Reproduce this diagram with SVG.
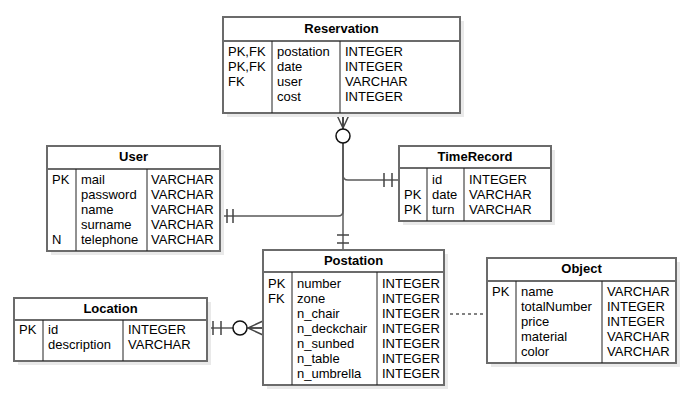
<svg xmlns="http://www.w3.org/2000/svg" width="691" height="401" viewBox="0 0 691 401">
<style>
.shadow{fill:#e9e9e9;stroke:none}
.box{fill:#fff;stroke:#6b6b6b;stroke-width:2}
.hline{stroke:#6b6b6b;stroke-width:2}
.div{stroke:#222;stroke-width:1}
text{font-family:"Liberation Sans",Arial,sans-serif;font-size:13px;fill:#000}
.title{font-weight:bold;text-anchor:middle}
.conn{fill:none;stroke:#5a5a5a;stroke-width:1.5}
.sym{fill:none;stroke:#444;stroke-width:1.5}
.circ{fill:#fff;stroke:#111;stroke-width:1.5}
</style>
<rect width="691" height="401" fill="#fff"/>

<g id="connectors">
  <path class="conn" d="M343 113 V250"/>
  <path class="conn" d="M343 113 V211 Q343 216 338 216 H220"/>
  <path class="conn" d="M343 113 V175 Q343 180 348 180 H399"/>
  <path class="conn" d="M207 328 H263"/>
  <path class="conn" d="M444 314 H487" stroke-dasharray="3 3"/>
  <!-- Reservation side: zero or many -->
  <path class="sym" d="M336 113 L343 128 L350 113 M343 113 V129"/>
  <circle class="circ" cx="343" cy="136" r="7"/>
  <!-- Postation top ticks -->
  <path class="sym" d="M337 235 H349 M337 243 H349"/>
  <!-- User ticks -->
  <path class="sym" d="M227 209 V223 M233 209 V223"/>
  <!-- TimeRecord ticks -->
  <path class="sym" d="M384 173 V187 M392 173 V187"/>
  <!-- Location side ticks -->
  <path class="sym" d="M213 321 V335 M221 321 V335"/>
  <circle class="circ" cx="240" cy="328" r="7"/>
  <path class="sym" d="M263 321 L248 328 L263 335 M248 328 H263"/>
</g>

<g id="Reservation">
  <rect class="shadow" x="227" y="21" width="237" height="96"/>
  <rect class="box" x="223" y="17" width="237" height="96"/>
  <line class="hline" x1="223" y1="41" x2="460" y2="41"/>
  <line class="div" x1="272" y1="41" x2="272" y2="113"/>
  <line class="div" x1="340" y1="41" x2="340" y2="113"/>
  <text class="title" x="341.5" y="33">Reservation</text>
  <text x="228" y="56">PK,FK</text><text x="277" y="56">postation</text><text x="345" y="56">INTEGER</text>
  <text x="228" y="71">PK,FK</text><text x="277" y="71">date</text><text x="345" y="71">INTEGER</text>
  <text x="228" y="86">FK</text><text x="277" y="86">user</text><text x="345" y="86">VARCHAR</text>
  <text x="277" y="101">cost</text><text x="345" y="101">INTEGER</text>
</g>

<g id="User">
  <rect class="shadow" x="51" y="150" width="173" height="105"/>
  <rect class="box" x="47" y="146" width="173" height="105"/>
  <line class="hline" x1="47" y1="169" x2="220" y2="169"/>
  <line class="div" x1="76" y1="169" x2="76" y2="251"/>
  <line class="div" x1="147" y1="169" x2="147" y2="251"/>
  <text class="title" x="133.5" y="161">User</text>
  <text x="52" y="184">PK</text><text x="81" y="184">mail</text><text x="151" y="184">VARCHAR</text>
  <text x="81" y="199">password</text><text x="151" y="199">VARCHAR</text>
  <text x="81" y="214">name</text><text x="151" y="214">VARCHAR</text>
  <text x="81" y="229">surname</text><text x="151" y="229">VARCHAR</text>
  <text x="52" y="244">N</text><text x="81" y="244">telephone</text><text x="151" y="244">VARCHAR</text>
</g>

<g id="TimeRecord">
  <rect class="shadow" x="403" y="150" width="152" height="75"/>
  <rect class="box" x="399" y="146" width="152" height="75"/>
  <line class="hline" x1="399" y1="168" x2="551" y2="168"/>
  <line class="div" x1="427" y1="168" x2="427" y2="221"/>
  <line class="div" x1="464" y1="168" x2="464" y2="221"/>
  <text class="title" x="475" y="161">TimeRecord</text>
  <text x="432" y="184">id</text><text x="469" y="184">INTEGER</text>
  <text x="404" y="199">PK</text><text x="432" y="199">date</text><text x="469" y="199">VARCHAR</text>
  <text x="404" y="214">PK</text><text x="432" y="214">turn</text><text x="469" y="214">VARCHAR</text>
</g>

<g id="Postation">
  <rect class="shadow" x="267" y="254" width="181" height="135"/>
  <rect class="box" x="263" y="250" width="181" height="135"/>
  <line class="hline" x1="263" y1="272" x2="444" y2="272"/>
  <line class="div" x1="292" y1="272" x2="292" y2="385"/>
  <line class="div" x1="377" y1="272" x2="377" y2="385"/>
  <text class="title" x="353.5" y="265">Postation</text>
  <text x="268" y="288">PK</text><text x="297" y="288">number</text><text x="382" y="288">INTEGER</text>
  <text x="268" y="303">FK</text><text x="297" y="303">zone</text><text x="382" y="303">INTEGER</text>
  <text x="297" y="318">n_chair</text><text x="382" y="318">INTEGER</text>
  <text x="297" y="333">n_deckchair</text><text x="382" y="333">INTEGER</text>
  <text x="297" y="348">n_sunbed</text><text x="382" y="348">INTEGER</text>
  <text x="297" y="363">n_table</text><text x="382" y="363">INTEGER</text>
  <text x="297" y="378">n_umbrella</text><text x="382" y="378">INTEGER</text>
</g>

<g id="Object">
  <rect class="shadow" x="491" y="262" width="189" height="105"/>
  <rect class="box" x="487" y="258" width="189" height="105"/>
  <line class="hline" x1="487" y1="281" x2="676" y2="281"/>
  <line class="div" x1="516" y1="281" x2="516" y2="363"/>
  <line class="div" x1="602" y1="281" x2="602" y2="363"/>
  <text class="title" x="581.5" y="273">Object</text>
  <text x="492" y="296">PK</text><text x="521" y="296">name</text><text x="607" y="296">VARCHAR</text>
  <text x="521" y="311">totalNumber</text><text x="607" y="311">INTEGER</text>
  <text x="521" y="326">price</text><text x="607" y="326">INTEGER</text>
  <text x="521" y="341">material</text><text x="607" y="341">VARCHAR</text>
  <text x="521" y="356">color</text><text x="607" y="356">VARCHAR</text>
</g>

<g id="Location">
  <rect class="shadow" x="18" y="302" width="193" height="63"/>
  <rect class="box" x="14" y="298" width="193" height="63"/>
  <line class="hline" x1="14" y1="320" x2="207" y2="320"/>
  <line class="div" x1="43" y1="320" x2="43" y2="361"/>
  <line class="div" x1="123" y1="320" x2="123" y2="361"/>
  <text class="title" x="110.5" y="313">Location</text>
  <text x="19" y="334">PK</text><text x="48" y="334">id</text><text x="128" y="334">INTEGER</text>
  <text x="48" y="349">description</text><text x="128" y="349">VARCHAR</text>
</g>
</svg>
